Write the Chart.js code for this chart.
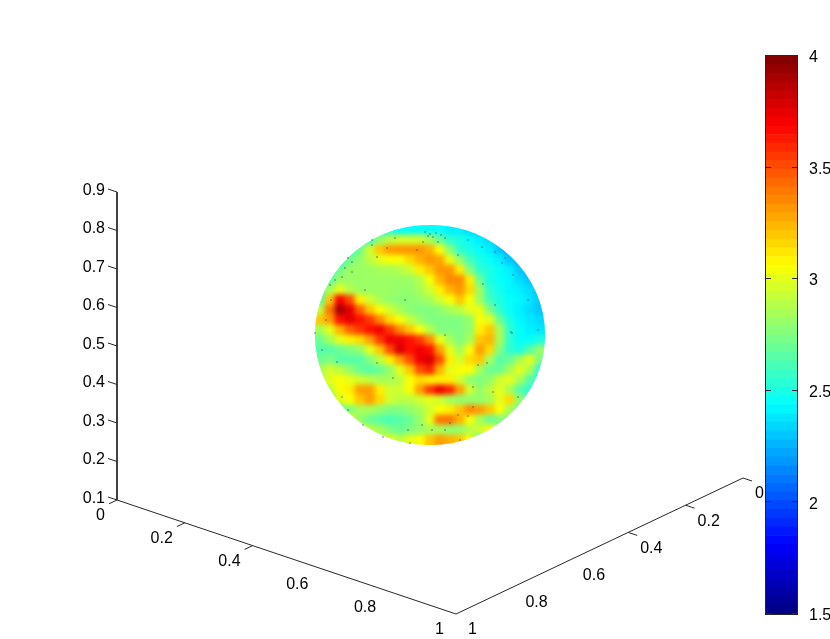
<!DOCTYPE html>
<html><head><meta charset="utf-8">
<script src="https://cdn.jsdelivr.net/npm/chart.js@4"></script>
<style>html,body{margin:0;padding:0;background:#fff;width:830px;height:639px;overflow:hidden}canvas{position:absolute;top:0}#m{left:0}#c{left:700px}</style>
</head><body>
<canvas id="m" width="830" height="639"></canvas>
<canvas id="c" width="130" height="639"></canvas>
<script>
const xTicks=[0,0.2,0.4,0.6,0.8,1];
const yTicks=[0,0.2,0.4,0.6,0.8,1];
const zTicks=[0.1,0.2,0.3,0.4,0.5,0.6,0.7,0.8,0.9];
const barTicks=[1.5,2,2.5,3,3.5,4];
const gridX=[320,330,340,350,360,370,380,390,400,410,420,430,440,450,460,470,480,490,500,510,520,530,540];
const gridY=[230,240,250,260,270,280,290,300,310,320,330,340,350,360,370,380,390,400,410,420,430,440];
const _=null;
const row230=[_,_,_,_,_,_,2.5,2.5,2.45,2.45,2.45,2.45,2.45,2.4,2.4,2.35,2.3,_,_,_,_,_,_];
const row240=[_,_,_,_,2.45,2.6,2.8,2.9,2.95,2.95,2.95,2.85,2.7,2.55,2.5,2.45,2.4,2.35,2.3,_,_,_,_];
const row250=[_,_,_,2.5,2.72,2.95,3.2,3.3,3.32,3.32,3.32,3.25,3.05,2.78,2.55,2.5,2.45,2.4,2.3,2.25,_,_,_];
const row260=[_,_,2.5,2.72,2.8,2.9,3.0,3.05,3.05,3.15,3.25,3.32,3.28,3.02,2.8,2.6,2.5,2.45,2.4,2.3,2.25,_,_];
const row270=[_,2.5,2.72,2.82,2.82,2.82,2.85,2.85,2.88,2.95,3.1,3.2,3.32,3.32,3.1,2.75,2.55,2.5,2.45,2.4,2.3,2.25,_];
const row280=[2.5,2.68,2.82,2.82,2.82,2.82,2.82,2.82,2.82,2.82,2.88,3.05,3.25,3.35,3.35,3.1,2.7,2.5,2.45,2.42,2.35,2.3,2.25];
const row290=[2.6,2.85,3.0,2.88,2.82,2.82,2.82,2.82,2.8,2.8,2.85,2.95,3.1,3.25,3.32,3.15,2.82,2.55,2.48,2.42,2.4,2.35,2.3];
const row300=[2.65,3.2,3.7,3.5,3.1,2.95,2.85,2.8,2.78,2.78,2.8,2.85,2.95,3.05,3.2,3.05,2.82,2.6,2.5,2.45,2.42,2.38,2.3];
const row310=[2.9,3.4,3.9,3.75,3.45,3.2,3.05,2.95,2.85,2.78,2.75,2.75,2.78,2.85,2.9,3.0,3.02,2.75,2.55,2.45,2.4,2.35,2.3];
const row320=[3.2,3.3,3.65,3.75,3.65,3.55,3.35,3.15,3.05,2.92,2.82,2.75,2.75,2.75,2.75,2.8,3.05,3.0,2.7,2.5,2.42,2.38,2.35];
const row330=[2.85,3.0,3.25,3.45,3.55,3.65,3.72,3.55,3.35,3.2,3.05,2.88,2.75,2.75,2.75,2.8,3.1,3.2,2.85,2.55,2.45,2.4,2.38];
const row340=[2.7,2.85,3.0,3.1,3.15,3.3,3.55,3.72,3.72,3.65,3.55,3.35,3.02,2.85,2.75,2.85,3.2,3.25,2.85,2.55,2.45,2.45,2.5];
const row350=[2.65,2.65,2.7,2.75,2.8,3.0,3.2,3.5,3.78,3.65,3.72,3.65,3.3,3.0,2.85,3.05,3.3,3.15,2.75,2.55,2.5,2.65,2.8];
const row360=[2.7,2.75,2.65,2.65,2.65,2.75,2.9,3.1,3.3,3.5,3.72,3.78,3.5,3.1,2.95,3.15,3.2,2.85,2.65,2.7,2.85,3.0,2.75];
const row370=[2.85,2.95,2.9,2.8,2.7,2.65,2.7,2.8,3.0,3.2,3.5,3.6,3.25,3.0,3.05,3.05,2.85,2.7,2.7,2.85,3.0,2.85,2.55];
const row380=[2.8,3.0,3.05,3.0,2.95,2.9,2.85,2.85,2.9,3.05,3.15,3.1,3.1,3.1,2.95,2.8,2.75,2.8,2.95,3.0,2.85,2.65,2.5];
const row390=[2.7,2.9,3.05,3.1,3.3,3.3,3.1,2.95,2.95,3.05,3.3,3.55,3.72,3.6,3.3,2.95,2.8,2.9,3.0,2.85,2.65,2.55,2.4];
const row400=[_,2.7,3.0,3.05,3.2,3.3,3.15,2.95,2.9,2.9,2.95,3.0,2.95,2.85,2.8,2.8,2.8,2.85,3.0,3.15,2.8,2.6,_];
const row410=[_,_,2.7,2.75,2.85,2.85,2.8,2.75,2.75,2.8,2.85,2.95,3.05,3.1,3.2,3.35,3.3,3.2,3.05,2.85,2.7,_,_];
const row420=[_,_,3.0,3.0,2.8,2.7,2.65,2.62,2.65,2.7,2.8,3.0,3.4,3.4,3.25,3.05,2.85,2.7,2.75,2.75,_,_,_];
const row430=[_,_,_,_,3.0,2.9,2.85,2.75,2.7,2.75,2.8,2.85,2.85,2.8,2.8,2.88,2.95,3.05,2.85,_,_,_,_];
const row440=[_,_,_,_,_,_,2.9,3.0,2.9,3.0,3.05,3.2,3.3,3.25,3.2,3.05,2.6,_,_,_,_,_,_];
const sphereRows=[row230,row240,row250,row260,row270,row280,row290,row300,row310,row320,row330,row340,row350,row360,row370,row380,row390,row400,row410,row420,row430,row440];
const speckX=[395,387,372,377,423,417,348,352,342,330,428,433,438,445,458,468,482,495,502,513,483,495,511,315,322,337,377,393,342,348,363,383,408,422,445,478,487,512,473,493,518,458,468,473,450,432,445,405,365,331,326,425,430,436,441,352,345,335,372,505,528,538,460,410];
const speckY=[238,248,245,257,242,250,258,272,277,285,236,237,242,238,255,240,247,252,263,275,284,305,332,333,350,362,363,378,397,410,425,437,430,425,335,365,363,333,387,392,397,415,416,407,423,430,430,300,290,300,320,232,234,233,235,262,268,280,240,258,300,330,440,443];

function jet(v){
  const t=Math.max(0,Math.min(1,(v-1.5)/2.5));
  const c=k=>Math.round(255*Math.max(0,Math.min(1,1.5-Math.abs(4*t-k))));
  return `rgb(${c(3)},${c(2)},${c(1)})`;
}
const corner={x:339,xy:114,y:287,yy:-136,z:385};
function P(x,y,z){return {x:456+(x-1)*corner.x+(1-y)*corner.y,y:614+(x-1)*corner.xy+(1-y)*corner.yy-(z-0.1)*corner.z};}

const spherePts=[],sphereCol=[];
sphereRows.forEach((r,j)=>r.forEach((v,i)=>{if(v!==null){spherePts.push({x:gridX[i],y:gridY[j]});sphereCol.push(jet(v));}}));
const specks=speckX.map((x,i)=>({x,y:speckY[i]}));

const tickX=[],tickY=[],tickZ=[];
xTicks.forEach(t=>{const p=P(t,1,0.1);tickX.push(p,{x:p.x-8,y:p.y+3.8},{x:NaN,y:NaN});});
yTicks.forEach(t=>{const p=P(1,t,0.1);tickY.push(p,{x:p.x+9,y:p.y+3},{x:NaN,y:NaN});});
zTicks.forEach(t=>{const p=P(0,1,t);tickZ.push(p,{x:p.x-9,y:p.y-3},{x:NaN,y:NaN});});
const axisLine=[P(0,1,0.9),P(0,1,0.1),P(1,1,0.1),P(1,0,0.1)];

const lineDs=(data,label)=>({label,data,type:'scatter',showLine:true,borderColor:'#262626',borderWidth:1,pointRadius:0,spanGaps:false,parsing:false});
const font='16px "Liberation Sans", Arial, sans-serif';

const spherePlugin={id:'sphere',
  afterDatasetDraw(chart,args){
    if(args.index!==0)return;
    const ctx=chart.ctx,X=chart.scales.x,Y=chart.scales.y;
    const cx=X.getPixelForValue(430),cy=Y.getPixelForValue(335),rx=115,ry=110;
    const off=document.createElement('canvas');off.width=830;off.height=639;
    off.getContext('2d').drawImage(chart.canvas,0,0);
    ctx.save();
    ctx.clearRect(cx-rx-15,cy-ry-15,2*rx+30,2*ry+30);
    ctx.beginPath();ctx.ellipse(cx,cy,rx,ry,0,0,2*Math.PI);ctx.clip();
    ctx.drawImage(off,0,0);
    ctx.filter='blur(2.5px)';
    ctx.drawImage(off,0,0);
    ctx.restore();
  }};
const labelPlugin={id:'labels',
  afterDraw(chart){
    const ctx=chart.ctx,X=chart.scales.x,Y=chart.scales.y;
    ctx.save();ctx.font=font;ctx.fillStyle='#000';ctx.textBaseline='middle';
    ctx.textAlign='right';
    zTicks.forEach(t=>{const p=P(0,1,t);ctx.fillText(String(t),X.getPixelForValue(p.x-12),Y.getPixelForValue(p.y-1.5));});
    xTicks.forEach(t=>{const p=P(t,1,0.1);ctx.fillText(String(t),X.getPixelForValue(p.x-12),Y.getPixelForValue(p.y+16));});
    ctx.textAlign='left';
    yTicks.forEach(t=>{const p=P(1,t,0.1);ctx.fillText(String(t),X.getPixelForValue(p.x+12),Y.getPixelForValue(p.y+16));});
    ctx.restore();
  }};
new Chart(document.getElementById('m'),{
  type:'scatter',
  data:{datasets:[
    {label:'sphere',data:spherePts,pointStyle:'rect',pointRadius:7.6,pointBorderWidth:0,pointBackgroundColor:sphereCol,order:9,parsing:false},
    {label:'specks',data:specks,pointStyle:'rect',pointRadius:0.9,pointBorderWidth:0,pointBackgroundColor:'rgba(40,60,130,0.7)',order:8,parsing:false},
    lineDs(axisLine,'axes'),lineDs(tickX,'x ticks'),lineDs(tickY,'y ticks'),lineDs(tickZ,'z ticks')
  ]},
  options:{responsive:false,animation:false,devicePixelRatio:1,
    layout:{padding:0,autoPadding:false},
    plugins:{legend:{display:false},tooltip:{enabled:false}},
    scales:{x:{type:'linear',min:0,max:830,display:false},y:{type:'linear',min:0,max:639,reverse:true,display:false}}},
  plugins:[spherePlugin,labelPlugin]
});

const levels=Array.from({length:64},(_,i)=>i);
const lo=barTicks[0],hi=barTicks[barTicks.length-1],dv=(hi-lo)/levels.length;
const labelShift=0.008;
const barFrame={id:'barFrame',
  afterDatasetsDraw(chart){
    const ctx=chart.ctx,a=chart.chartArea,y=chart.scales.y;
    ctx.save();ctx.strokeStyle='#262626';ctx.lineWidth=1;
    ctx.strokeRect(a.left-0.5,a.top-0.5,a.right-a.left+1,a.bottom-a.top+1);
    barTicks.forEach(t=>{const p=Math.round(y.getPixelForValue(t))-0.5;
      ctx.beginPath();ctx.moveTo(a.left,p);ctx.lineTo(a.left+5,p);ctx.moveTo(a.right-5,p);ctx.lineTo(a.right,p);ctx.stroke();});
    ctx.restore();
  }};
new Chart(document.getElementById('c'),{
  type:'bar',
  data:{labels:['colour'],datasets:levels.map(i=>({data:[[lo+i*dv,lo+(i+1)*dv]],backgroundColor:jet(lo+(i+0.5)*dv),borderWidth:0,barPercentage:1,categoryPercentage:1,grouped:false}))},
  options:{responsive:false,animation:false,devicePixelRatio:1,
    layout:{padding:{top:56,bottom:25,left:66,right:0},autoPadding:false},
    plugins:{legend:{display:false},tooltip:{enabled:false}},
    scales:{
      x:{display:false},
      y:{display:false,min:lo,max:hi},
      yLabels:{position:'right',min:lo+labelShift,max:hi+labelShift,afterFit(s){s.width=33;},
        afterBuildTicks(s){s.ticks=barTicks.map(v=>({value:v}));},
        grid:{display:false},border:{display:false},
        ticks:{color:'#000',font:{family:'"Liberation Sans", Arial, sans-serif',size:16},padding:4,crossAlign:'near',autoSkip:false,callback:v=>String(v)}}}
  },
  plugins:[barFrame]
});
</script>
</body></html>
